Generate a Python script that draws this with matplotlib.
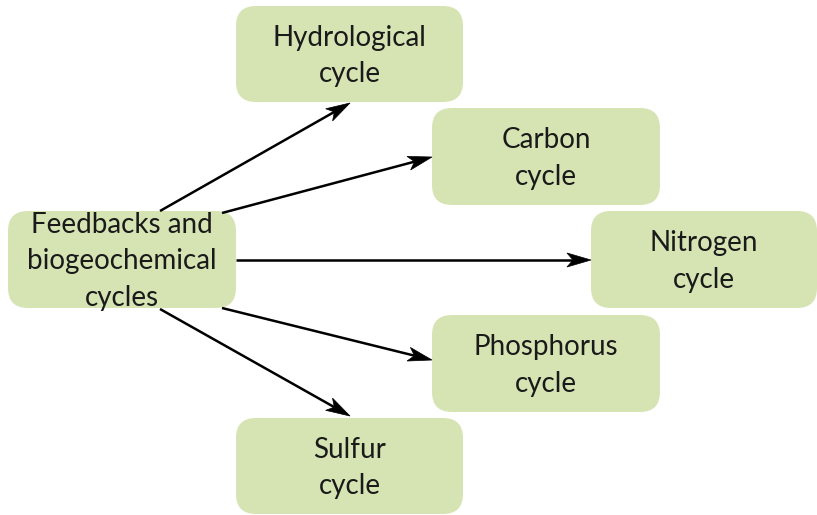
import matplotlib
matplotlib.use("Agg")
import matplotlib.pyplot as plt
import numpy as np
from matplotlib.patches import FancyBboxPatch, Polygon

source_label = "Feedbacks and\nbiogeochemical\ncycles"
target_labels = ["Hydrological\ncycle", "Carbon\ncycle", "Nitrogen\ncycle",
                 "Phosphorus\ncycle", "Sulfur\ncycle"]

# layout (pixel coordinates, y downward)
src_box = (8, 211, 228, 97)
tgt_boxes = [(236, 6, 227, 96), (432, 108, 228, 97), (591, 211, 226, 97),
             (432, 315, 228, 97), (236, 418, 227, 96)]
arrow_starts = [(160, 211), (222, 213), (236, 260), (222, 308), (160, 309)]
arrow_ends = [(350, 103), (432, 157), (591, 260), (432, 360), (350, 416)]

fill = "#d6e4b4"
plt.rcParams['font.family'] = ['Lato', 'DejaVu Sans']

fig = plt.figure(figsize=(8.17, 5.15), dpi=100)
ax = fig.add_axes([0, 0, 1, 1])
ax.set_xlim(0, 817)
ax.set_ylim(515, 0)
ax.axis("off")

def box(b, label):
    x, y, w, h = b
    r = 20
    p = FancyBboxPatch((x + r, y + r), w - 2 * r, h - 2 * r,
                       boxstyle=f"round,pad={r},rounding_size={r}",
                       facecolor=fill, edgecolor="none", zorder=1)
    ax.add_patch(p)
    ax.text(x + w / 2, y + h / 2 + 2, label, ha="center", va="center",
            fontsize=20, color="#1a1a1a", linespacing=1.48, zorder=3)

box(src_box, source_label)
for b, lab in zip(tgt_boxes, target_labels):
    box(b, lab)

head_len, head_half, notch = 24, 7, 6
for s, e in zip(arrow_starts, arrow_ends):
    s = np.array(s, float); e = np.array(e, float)
    d = (e - s) / np.linalg.norm(e - s)
    n = np.array([-d[1], d[0]])
    base = e - d * head_len
    ax.plot([s[0], (base + d * notch)[0]], [s[1], (base + d * notch)[1]],
            color="black", lw=1.8, solid_capstyle="butt", zorder=2)
    poly = [e, base + n * head_half, base + d * notch, base - n * head_half]
    ax.add_patch(Polygon(poly, closed=True, facecolor="black",
                         edgecolor="black", lw=0.5, zorder=2))

fig.savefig("out.png", dpi=100)
